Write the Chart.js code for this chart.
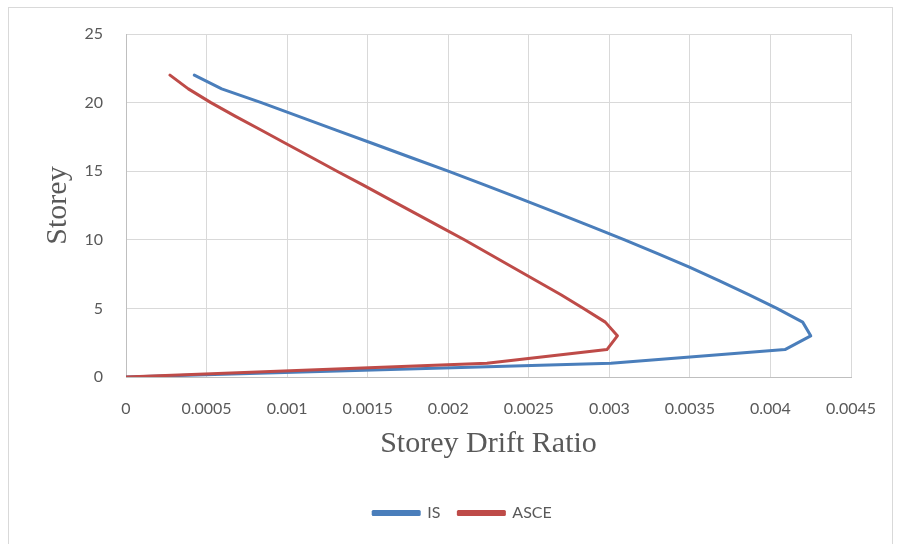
<!DOCTYPE html>
<html lang="en">
<head>
    <meta charset="UTF-8">
    <title>Storey Drift Ratio</title>
    <script src="https://cdn.jsdelivr.net/npm/chart.js"></script>
    <style>
        body {
            margin: 0;
            background: #fff;
        }
        #frame {
            position: absolute;
            left: 8px;
            top: 7px;
            width: 883px;
            height: 560px;
            border: 1px solid #d9d9d9;
        }
        #driftChart {
            position: absolute;
            left: 0;
            top: 0;
        }
    </style>
</head>
<body>
    <div id="frame"></div>
    <canvas id="driftChart" width="899" height="544"></canvas>

    <script>
        // storey numbers and drift ratio of each storey
        const storeys = [0, 1, 2, 3, 4, 5, 6, 7, 8, 9, 10, 11, 12, 13, 14, 15, 16, 17, 18, 19, 20, 21, 22];
        const isDrift = [0, 0.00301, 0.00409, 0.00425, 0.0042, 0.00404, 0.003865, 0.003684, 0.003497, 0.0033,
            0.003095, 0.002882, 0.002666, 0.002447, 0.002225, 0.0020, 0.001768, 0.001536, 0.001304, 0.001072,
            0.00084, 0.000594, 0.000424];
        const asceDrift = [0, 0.00224, 0.002985, 0.00305, 0.002975, 0.00284, 0.0027, 0.00255, 0.0024, 0.00225,
            0.0021, 0.001943, 0.001785, 0.001627, 0.00147, 0.00131, 0.001153, 0.000995, 0.000838, 0.00068,
            0.000527, 0.000387, 0.000273];

        // axis ticks
        const xTicks = [0, 0.0005, 0.001, 0.0015, 0.002, 0.0025, 0.003, 0.0035, 0.004, 0.0045];
        const yTicks = [0, 5, 10, 15, 20, 25];

        const toPoints = (drift) => drift.map((d, i) => ({ x: d, y: storeys[i] }));

        const tickFont = { family: 'Lato, "Liberation Sans", sans-serif', size: 16 };
        const titleFont = { family: '"Liberation Serif", "Times New Roman", serif', size: 30 };

        // legend sits a little right of the centre of the chart box
        const legendShift = {
            id: 'legendShift',
            afterLayout(chart) {
                chart.legend.left += 33;
                chart.legend.right += 33;
            }
        };

        new Chart(document.getElementById('driftChart'), {
            type: 'scatter',
            data: {
                datasets: [
                    {
                        label: 'IS',
                        data: toPoints(isDrift),
                        showLine: true,
                        borderColor: '#4a7ebb',
                        backgroundColor: '#4a7ebb',
                        borderWidth: 3,
                        pointRadius: 0,
                        borderJoinStyle: 'round',
                        borderCapStyle: 'round',
                        order: 2
                    },
                    {
                        label: 'ASCE',
                        data: toPoints(asceDrift),
                        showLine: true,
                        borderColor: '#be4b48',
                        backgroundColor: '#be4b48',
                        borderWidth: 3,
                        pointRadius: 0,
                        borderJoinStyle: 'round',
                        borderCapStyle: 'round',
                        order: 1
                    }
                ]
            },
            options: {
                responsive: false,
                animation: false,
                devicePixelRatio: 1,
                layout: {
                    padding: { left: 8, top: 34, right: 48, bottom: 13 }
                },
                plugins: {
                    tooltip: { enabled: false },
                    legend: {
                        position: 'bottom',
                        labels: {
                            boxWidth: 46,
                            boxHeight: 3,
                            padding: 18,
                            color: '#595959',
                            font: tickFont,
                            sort: (a, b) => a.datasetIndex - b.datasetIndex
                        }
                    }
                },
                scales: {
                    x: {
                        type: 'linear',
                        min: xTicks[0],
                        max: xTicks[xTicks.length - 1],
                        afterBuildTicks: (scale) => {
                            scale.ticks = xTicks.map(v => ({ value: v }));
                        },
                        afterFit: (scale) => {
                            scale.height = 110;
                        },
                        ticks: {
                            color: '#595959',
                            font: tickFont,
                            padding: 22,
                            maxRotation: 0,
                            autoSkip: false,
                            callback: (v) => String(+v.toFixed(4))
                        },
                        grid: {
                            color: '#d9d9d9',
                            drawTicks: false
                        },
                        border: { color: '#bfbfbf' },
                        title: {
                            display: true,
                            text: 'Storey Drift Ratio',
                            color: '#595959',
                            font: titleFont,
                            padding: { top: 0, bottom: 25 }
                        }
                    },
                    y: {
                        type: 'linear',
                        min: yTicks[0],
                        max: yTicks[yTicks.length - 1],
                        afterBuildTicks: (scale) => {
                            scale.ticks = yTicks.map(v => ({ value: v }));
                        },
                        afterFit: (scale) => {
                            scale.width = 118;
                        },
                        ticks: {
                            color: '#595959',
                            font: tickFont,
                            padding: 23
                        },
                        grid: {
                            color: '#d9d9d9',
                            drawTicks: false
                        },
                        border: { color: '#bfbfbf' },
                        title: {
                            display: true,
                            text: 'Storey',
                            color: '#595959',
                            font: titleFont,
                            padding: { top: 32, bottom: 0 }
                        }
                    }
                }
            },
            plugins: [legendShift]
        });
    </script>
</body>
</html>
